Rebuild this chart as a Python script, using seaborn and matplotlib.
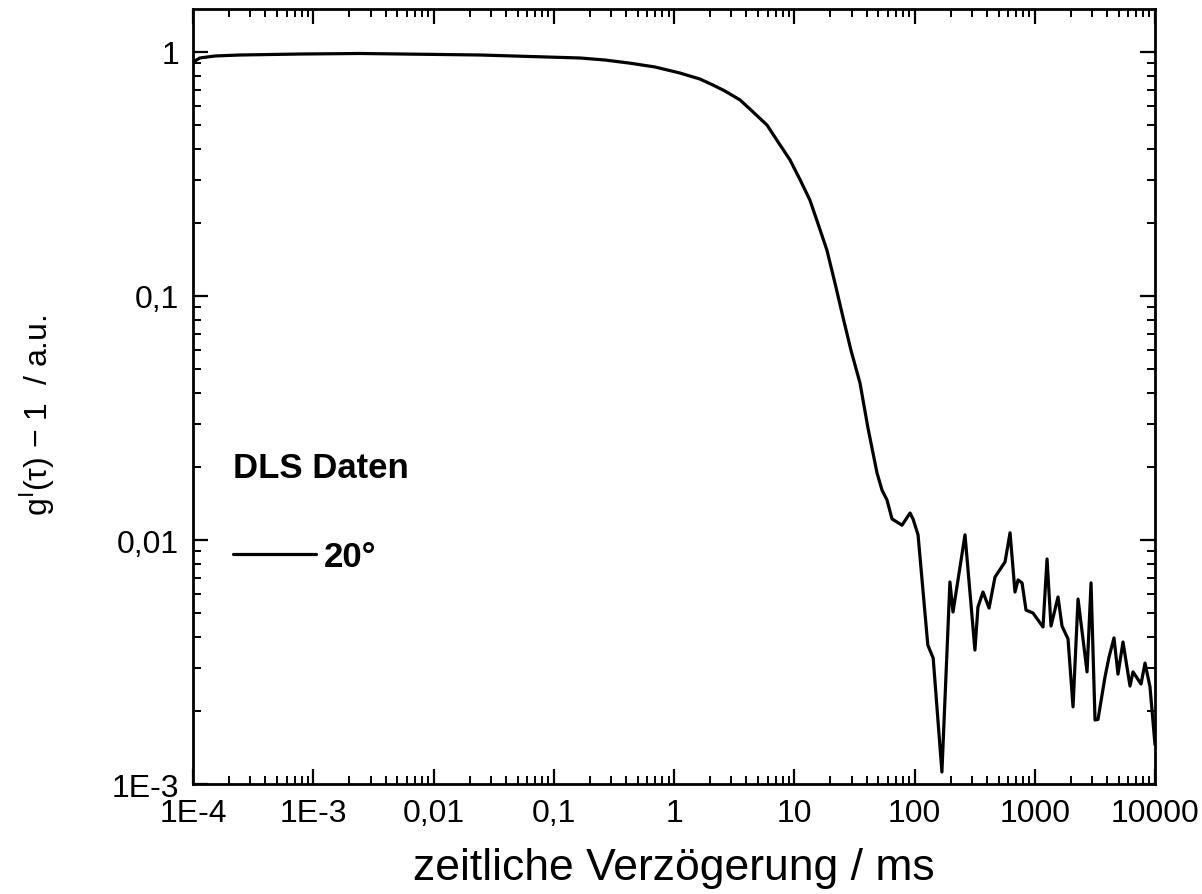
import numpy as np
import pandas as pd
import seaborn as sns
import matplotlib
matplotlib.use("Agg")
import matplotlib.pyplot as plt
from matplotlib.ticker import FixedLocator, FixedFormatter, LogLocator, NullFormatter

# DLS Korrelationsfunktion
tau_ms = [1.0e-4, 1.14e-4, 1.52e-4, 2.46e-4, 7.76e-4, 2.45e-3, 0.0244, 0.165, 0.267,
          0.430, 0.695, 1.12, 1.64, 2.11, 2.65, 3.54, 4.54, 5.93, 7.33, 9.22, 11.2,
          13.5, 15.8, 18.7, 21.8, 25.4, 29.6, 35.2, 41.0, 48.8, 53.7, 59.0, 65.0,
          78.7, 91.8, 97.2, 107, 129, 143, 169, 197, 209, 263, 318, 337, 371, 417,
          467, 566, 623, 685, 726, 784, 846, 967, 1064, 1171, 1265, 1365, 1561,
          1685, 1891, 2081, 2291, 2722, 2938, 3170, 3358, 3841, 4144, 4560, 4922,
          5418, 6194, 6561, 7653, 8260, 9084, 10000]
g1 = [0.91, 0.945, 0.963, 0.972, 0.981, 0.986, 0.972, 0.945, 0.927,
      0.90, 0.868, 0.82, 0.775, 0.732, 0.692, 0.636, 0.568, 0.502, 0.428, 0.361, 0.299,
      0.247, 0.197, 0.154, 0.113, 0.082, 0.060, 0.044, 0.0288, 0.0188, 0.016, 0.0146, 0.0122,
      0.0115, 0.0129, 0.0122, 0.0105, 0.00371, 0.00328, 0.00112, 0.00673, 0.00507, 0.0105,
      0.00354, 0.00531, 0.00612, 0.00526,
      0.00705, 0.00813, 0.0107, 0.00612, 0.00686, 0.00667, 0.00516, 0.00502, 0.0047,
      0.0044, 0.00836, 0.00444, 0.00584,
      0.00444, 0.00393, 0.00207, 0.00573, 0.00288, 0.00667, 0.00183, 0.00184, 0.00275,
      0.00331, 0.00397, 0.00282,
      0.00382, 0.00252, 0.00288, 0.00257, 0.00313, 0.0025, 0.00145]

x_ticks = [1e-4, 1e-3, 1e-2, 1e-1, 1, 10, 100, 1000, 10000]
x_labels = ["1E-4", "1E-3", "0,01", "0,1", "1", "10", "100", "1000", "10000"]
y_ticks = [1e-3, 1e-2, 1e-1, 1]
y_labels = ["1E-3", "0,01", "0,1", "1"]

df = pd.DataFrame({"tau": tau_ms, "g": g1})

sns.set_style("ticks")
plt.rcParams["font.family"] = ["Liberation Sans", "DejaVu Sans"]
plt.rcParams["mathtext.fontset"] = "custom"
plt.rcParams["mathtext.rm"] = "Liberation Sans"
for k in ["text.color", "axes.labelcolor", "xtick.color", "ytick.color"]:
    plt.rcParams[k] = "black"

fig = plt.figure(figsize=(12.02, 8.95), dpi=100)
ax = fig.add_axes([0.1606, 0.1229, 0.8003, 0.8659])

sns.lineplot(data=df, x="tau", y="g", ax=ax, color="black", linewidth=2.3,
             sort=False, label="20°")

ax.set_xscale("log")
ax.set_yscale("log")
ax.set_xlim(1e-4, 1e4)
ax.set_ylim(1e-3, 1.5)

ax.xaxis.set_major_locator(FixedLocator(x_ticks))
ax.xaxis.set_major_formatter(FixedFormatter(x_labels))
ax.yaxis.set_major_locator(FixedLocator(y_ticks))
ax.yaxis.set_major_formatter(FixedFormatter(y_labels))
ax.xaxis.set_minor_locator(LogLocator(base=10, subs=np.arange(2, 10), numticks=20))
ax.yaxis.set_minor_locator(LogLocator(base=10, subs=np.arange(2, 10), numticks=20))
ax.xaxis.set_minor_formatter(NullFormatter())
ax.yaxis.set_minor_formatter(NullFormatter())

ax.tick_params(which="both", direction="in", top=True, right=True, color="black")
ax.tick_params(which="major", length=11, width=1.6, labelsize=23, pad=10)
ax.tick_params(which="minor", length=6, width=1.4)
for sp in ax.spines.values():
    sp.set_linewidth(2)
    sp.set_color("black")

ax.set_xlabel("zeitliche Verzögerung / ms", fontsize=32)
ax.set_ylabel("g$^{\\mathrm{I}}$(τ) − 1  / a.u.", fontsize=23)
ax.xaxis.set_label_coords(0.5, -0.081)
ax.yaxis.set_label_coords(-0.142, 0.477)

leg = ax.legend(title="DLS Daten", frameon=False, loc="center left",
                bbox_to_anchor=(0.0416, 0.351), borderpad=0, borderaxespad=0,
                handlelength=2.4, handletextpad=0.2, labelspacing=1.6,
                fontsize=25, alignment="left",
                title_fontproperties={"weight": "bold", "size": 25})
for t in leg.get_texts():
    t.set_fontweight("bold")

fig.savefig("out.png", dpi=100)
